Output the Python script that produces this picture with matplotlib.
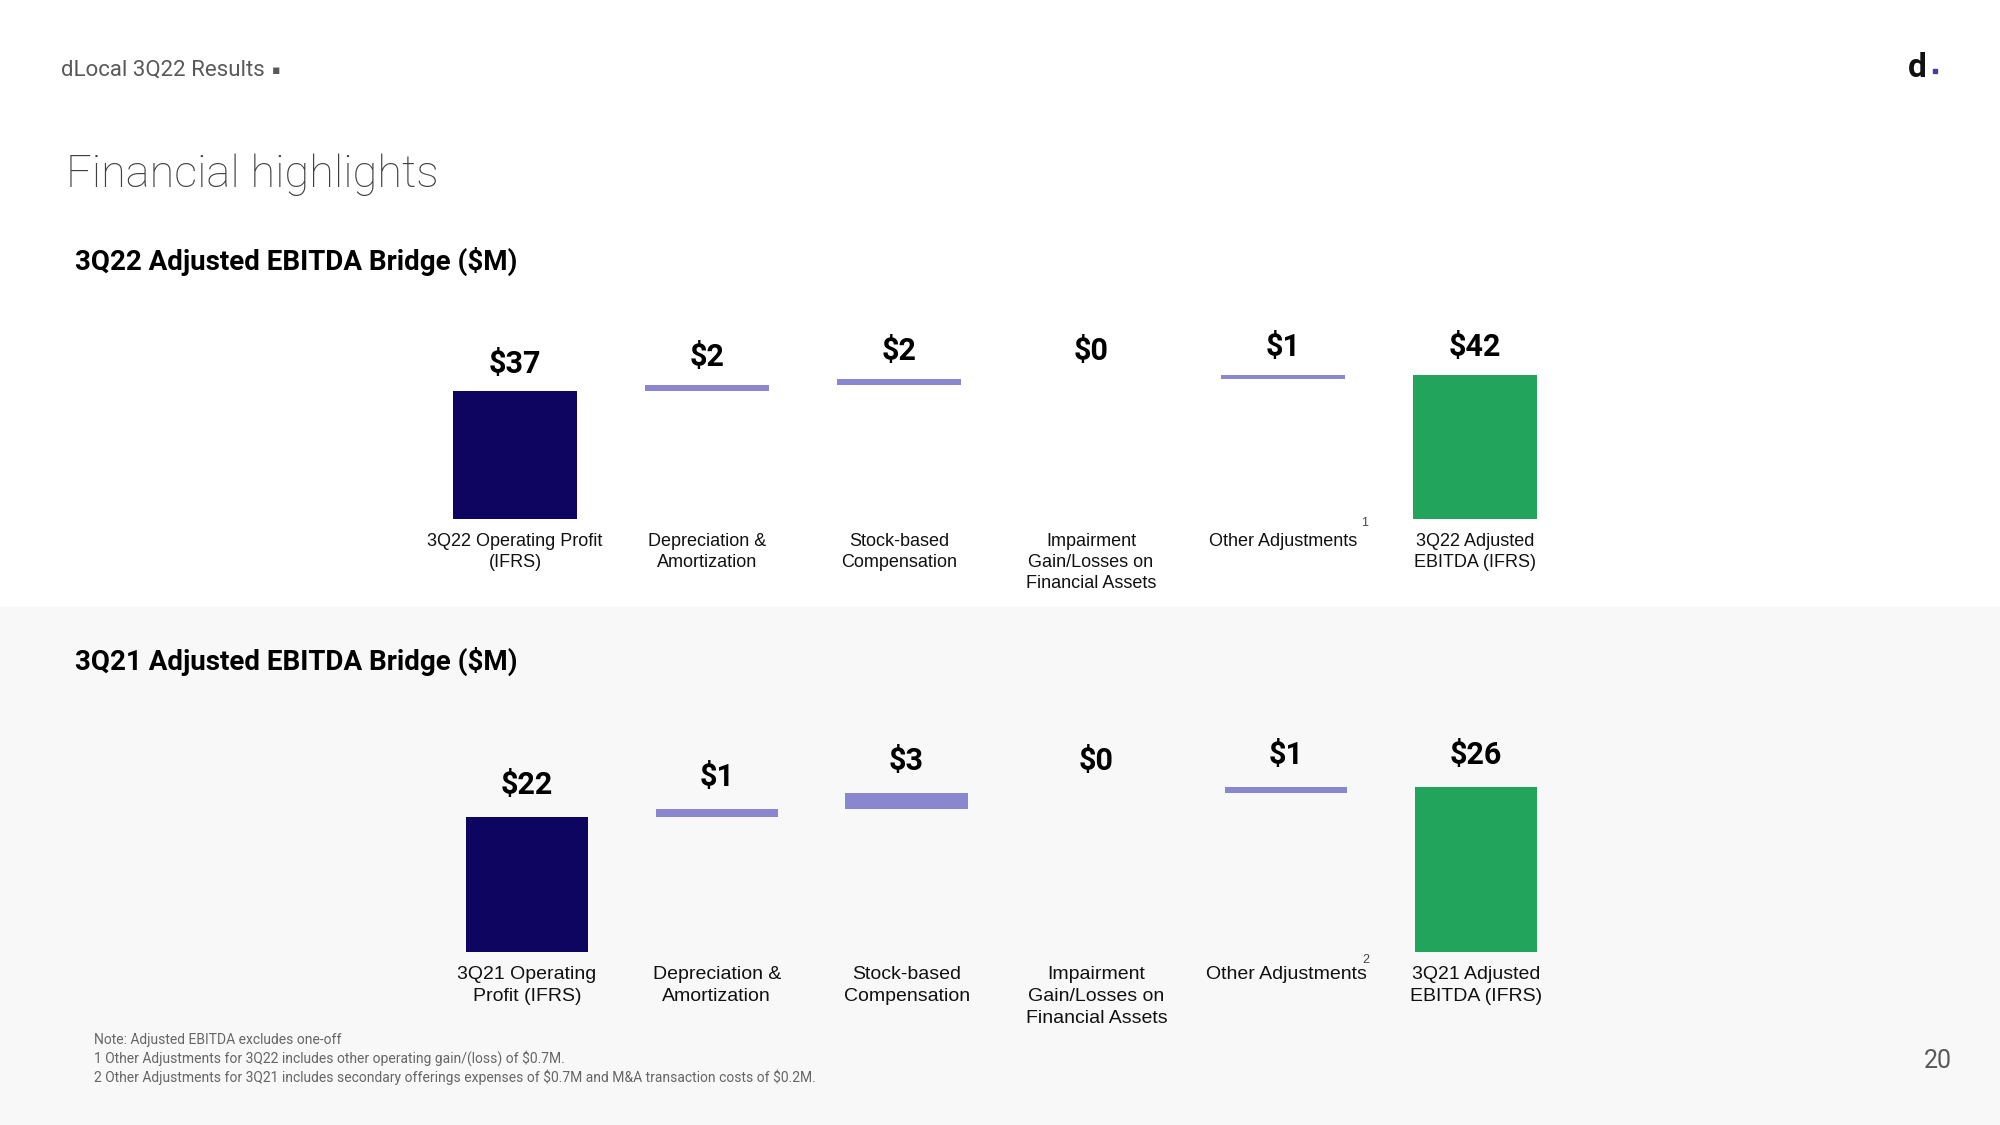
import matplotlib.pyplot as plt
from matplotlib.patches import Rectangle

W, H = 2000, 1125

# datos del puente 3Q22
cat_22 = ["3Q22 Operating Profit\n(IFRS)", "Depreciation &\nAmortization", "Stock-based\nCompensation",
          "Impairment\nGain/Losses on\nFinancial Assets", "Other Adjustments", "3Q22 Adjusted\nEBITDA (IFRS)"]
val_22 = [37.3, 1.9, 1.8, 0.0, 1.1]

# datos del puente 3Q21
cat_21 = ["3Q21 Operating\nProfit (IFRS)", "Depreciation &\nAmortization", "Stock-based\nCompensation",
          "Impairment\nGain/Losses on\nFinancial Assets", "Other Adjustments", "3Q21 Adjusted\nEBITDA (IFRS)"]
val_21 = [21.6, 1.3, 2.6, 0.0, 0.9]

notas = [
    "Note: Adjusted EBITDA excludes one-off",
    "1 Other Adjustments for 3Q22 includes other operating gain/(loss) of \\$0.7M.",
    "2 Other Adjustments for 3Q21 includes secondary offerings expenses of \\$0.7M and M&A transaction costs of \\$0.2M.",
]

NAVY = '#0e0560'
LILA = '#8a87cf'
VERDE = '#23a45c'
GRIS = '#595959'


def px(x, y):
    # pixeles de la imagen -> fraccion de figura
    return x / W, 1 - y / H


def puente(ax, valores, categorias, offset, tam_cat, esp_cat):
    total = sum(valores)
    alturas = valores + [total]
    bases = []
    acum = 0
    for i, v in enumerate(valores):
        bases.append(0 if i == 0 else acum)
        acum += v
    bases.append(0)
    colores = [NAVY] + [LILA] * (len(valores) - 1) + [VERDE]
    x = list(range(len(alturas)))
    ax.bar(x, alturas, bottom=bases, width=0.645, color=colores)
    for i, (b, h) in enumerate(zip(bases, alturas)):
        ax.annotate(f"${h:.0f}", (i, b + h), xytext=(0, offset), textcoords='offset points',
                    ha='center', va='center', fontsize=22, fontweight='bold', family='Roboto',
                    annotation_clip=False)
        ax.annotate(categorias[i], (i, 0), xytext=(0, -10), textcoords='offset points',
                    ha='center', va='top', fontsize=tam_cat, family='Liberation Sans',
                    linespacing=esp_cat, color='#111111', annotation_clip=False)
    ax.set_xlim(-0.5, len(alturas) - 0.5)
    ax.set_ylim(0, total)
    ax.axis('off')


fig = plt.figure(figsize=(20, 11.25), dpi=100)
fig.patch.set_facecolor('white')

# fondo gris de la mitad inferior (detras de los ejes)
fig.patches.append(Rectangle(px(0, 1125), 1, (1125 - 607) / H, transform=fig.transFigure,
                             color='#f8f8f8', zorder=-1))

# encabezado
fig.text(*px(61, 70), "dLocal 3Q22 Results", fontsize=16, color=GRIS, family='Roboto', va='center')
fig.text(*px(272, 70), "▪", fontsize=9, color=GRIS, family=['Roboto', 'DejaVu Sans'], va='center')
fig.text(*px(66, 175), "Financial highlights", fontsize=32.5, color='#404040', family='Roboto',
         fontweight='light', va='center')
fig.text(*px(1908, 68), "d", fontsize=24, color='#111111', family='Roboto', fontweight='bold', va='center')
fig.patches.append(Rectangle(px(1933, 73), 4 / W, 4 / H, transform=fig.transFigure, color='#4b3a9c'))

fig.text(*px(75, 261), "3Q22 Adjusted EBITDA Bridge ($M)", fontsize=20, fontweight='bold',
         family='Roboto', color='black', va='center')
fig.text(*px(75, 661), "3Q21 Adjusted EBITDA Bridge ($M)", fontsize=20, fontweight='bold',
         family='Roboto', color='black', va='center')

ax1 = fig.add_axes([419 / W, 1 - 519 / H, 1152 / W, 144 / H])
puente(ax1, val_22, cat_22, 20, 13, 1.3)

ax2 = fig.add_axes([432 / W, 1 - 952 / H, 1139 / W, 165 / H])
puente(ax2, val_21, cat_21, 23, 14, 1.4)

# superindices de notas
fig.text(*px(1365, 523), "1", fontsize=9, color='#444444', family='Liberation Sans', ha='center', va='center')
fig.text(*px(1366, 960), "2", fontsize=9, color='#444444', family='Liberation Sans', ha='center', va='center')

# notas al pie
for i, nota in enumerate(notas):
    fig.text(*px(94, 1040 + i * 18.5), nota, fontsize=10, color='#666666', family='Roboto', va='center')

fig.text(*px(1938, 1061), "20", fontsize=18, color=GRIS, family='Roboto', ha='center', va='center')

fig.savefig('out.png', dpi=100)
